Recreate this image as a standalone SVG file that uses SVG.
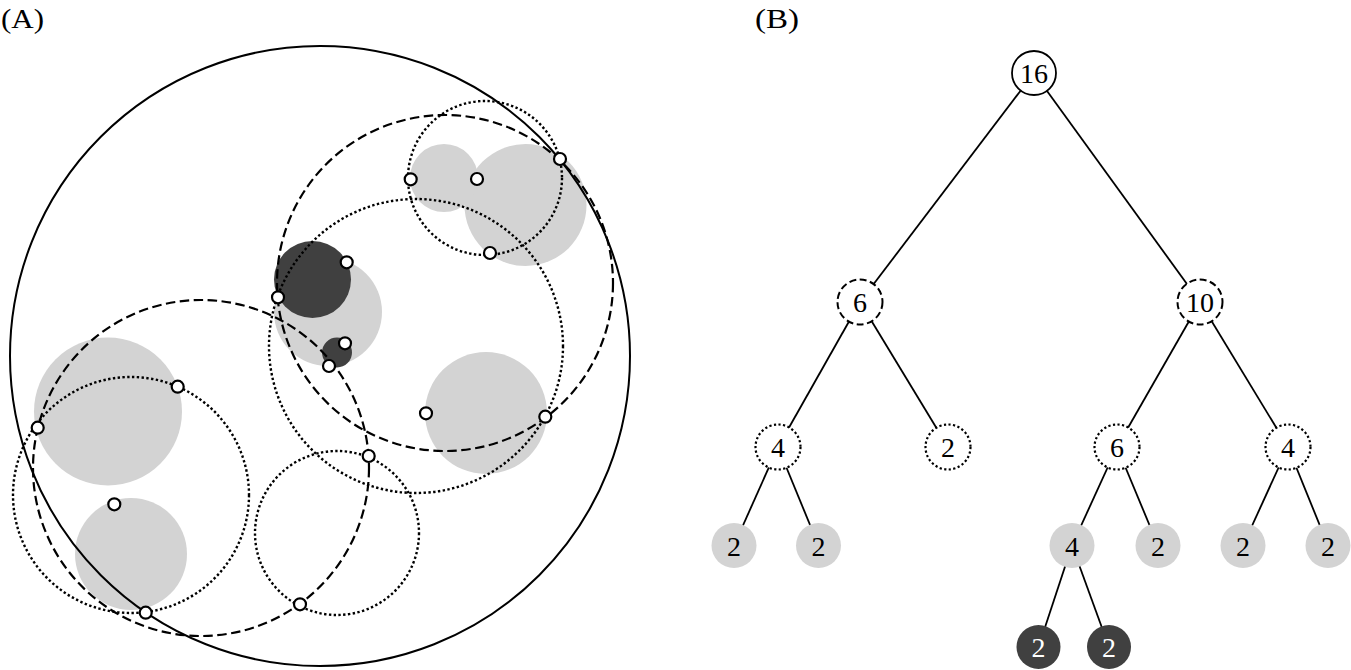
<svg xmlns="http://www.w3.org/2000/svg" width="1351" height="670" viewBox="0 0 1351 670">
<style>
.lbl{font-family:"Liberation Serif","Times New Roman",serif;font-size:27px;fill:#000}
.num{font-family:"Liberation Serif","Times New Roman",serif;font-size:28px;text-anchor:middle;fill:#000}
.wnum{fill:#fff}
.gray{fill:#d3d3d3;stroke:none}
.dark{fill:#404040;stroke:none}
.solid{fill:none;stroke:#000;stroke-width:2}
.dash{fill:none;stroke:#000;stroke-width:2.2;stroke-dasharray:9.5 4.5}
.dot{fill:none;stroke:#000;stroke-width:2.4;stroke-dasharray:2.4 2.4}
.pt{fill:#fff;stroke:#000;stroke-width:2.2}
.edge{stroke:#000;stroke-width:1.8;fill:none}
.nsolid{fill:#fff;stroke:#000;stroke-width:1.8}
.ndash{fill:#fff;stroke:#000;stroke-width:2;stroke-dasharray:7 3.5}
.ndot{fill:#fff;stroke:#000;stroke-width:2.2;stroke-dasharray:2.2 2.4}
.ngray{fill:#d3d3d3}
.ndark{fill:#404040}
</style>
<rect width="1351" height="670" fill="#fff"/>
<text class="lbl" x="1" y="28" textLength="43" lengthAdjust="spacingAndGlyphs">(A)</text>
<text class="lbl" x="755" y="28" textLength="44" lengthAdjust="spacingAndGlyphs">(B)</text>
<g id="panelA">
<g id="fills">
<circle class="gray" cx="525.5" cy="205" r="61"/>
<circle class="gray" cx="444" cy="178" r="34"/>
<circle class="gray" cx="328" cy="312" r="54"/>
<circle class="dark" cx="312.5" cy="279.5" r="38.5"/>
<circle class="dark" cx="337" cy="352.5" r="15"/>
<circle class="gray" cx="486" cy="413" r="61"/>
<circle class="gray" cx="108" cy="411.5" r="74"/>
<circle class="gray" cx="131" cy="554" r="56"/>
</g>
<g id="outlines">
<circle class="solid" cx="320" cy="356" r="310"/>
<circle class="dash" cx="445" cy="283" r="168"/>
<circle class="dash" cx="201" cy="468" r="168"/>
<circle class="dot" cx="416" cy="346" r="147"/>
<circle class="dot" cx="485" cy="178" r="77"/>
<circle class="dot" cx="131" cy="495" r="118"/>
<circle class="dot" cx="337" cy="533" r="82"/>
</g>
<g id="points">
<circle class="pt" cx="410.7" cy="179.3" r="6"/>
<circle class="pt" cx="477" cy="179" r="6"/>
<circle class="pt" cx="560" cy="159" r="6"/>
<circle class="pt" cx="490" cy="253" r="6"/>
<circle class="pt" cx="346.7" cy="262.3" r="6"/>
<circle class="pt" cx="278" cy="297.3" r="6"/>
<circle class="pt" cx="345" cy="343.3" r="6"/>
<circle class="pt" cx="329" cy="366" r="6"/>
<circle class="pt" cx="426" cy="413.3" r="6"/>
<circle class="pt" cx="545.3" cy="416.7" r="6"/>
<circle class="pt" cx="177.7" cy="386.7" r="6"/>
<circle class="pt" cx="37.7" cy="427.7" r="6"/>
<circle class="pt" cx="114.3" cy="504.3" r="6"/>
<circle class="pt" cx="368.7" cy="456" r="6"/>
<circle class="pt" cx="145.7" cy="612.7" r="6"/>
<circle class="pt" cx="300" cy="604.3" r="6"/>
</g>
</g>
<g id="connectors">
<line class="edge" x1="1034" y1="73" x2="860" y2="302"/>
<line class="edge" x1="1034" y1="73" x2="1200" y2="302"/>
<line class="edge" x1="860" y1="302" x2="778" y2="447"/>
<line class="edge" x1="860" y1="302" x2="948" y2="447"/>
<line class="edge" x1="1200" y1="302" x2="1117" y2="447"/>
<line class="edge" x1="1200" y1="302" x2="1288" y2="447"/>
<line class="edge" x1="778" y1="447" x2="734" y2="545.5"/>
<line class="edge" x1="778" y1="447" x2="818.5" y2="545.5"/>
<line class="edge" x1="1117" y1="447" x2="1072" y2="545.5"/>
<line class="edge" x1="1117" y1="447" x2="1158" y2="545.5"/>
<line class="edge" x1="1288" y1="447" x2="1243" y2="545.5"/>
<line class="edge" x1="1288" y1="447" x2="1328" y2="545.5"/>
<line class="edge" x1="1072" y1="545.5" x2="1038.5" y2="647"/>
<line class="edge" x1="1072" y1="545.5" x2="1109" y2="647"/>
</g>
<g id="n16"><circle class="nsolid" cx="1034" cy="73" r="22"/><text class="num" x="1034" y="83">16</text></g>
<g id="n6a"><circle class="ndash" cx="860" cy="302" r="22.5"/><text class="num" x="860" y="312">6</text></g>
<g id="n10"><circle class="ndash" cx="1200" cy="302" r="22.5"/><text class="num" x="1200" y="312">10</text></g>
<g id="n4a"><circle class="ndot" cx="778" cy="447" r="22.5"/><text class="num" x="778" y="457">4</text></g>
<g id="n2a"><circle class="ndot" cx="948" cy="447" r="22.5"/><text class="num" x="948" y="457">2</text></g>
<g id="n6b"><circle class="ndot" cx="1117" cy="447" r="22.5"/><text class="num" x="1117" y="457">6</text></g>
<g id="n4b"><circle class="ndot" cx="1288" cy="447" r="22.5"/><text class="num" x="1288" y="457">4</text></g>
<g id="n2b"><circle class="ngray" cx="734" cy="545.5" r="22.5"/><text class="num" x="734" y="555.5">2</text></g>
<g id="n2c"><circle class="ngray" cx="818.5" cy="545.5" r="22.5"/><text class="num" x="818.5" y="555.5">2</text></g>
<g id="n4c"><circle class="ngray" cx="1072" cy="545.5" r="22.5"/><text class="num" x="1072" y="555.5">4</text></g>
<g id="n2d"><circle class="ngray" cx="1158" cy="545.5" r="22.5"/><text class="num" x="1158" y="555.5">2</text></g>
<g id="n2e"><circle class="ngray" cx="1243" cy="545.5" r="22.5"/><text class="num" x="1243" y="555.5">2</text></g>
<g id="n2f"><circle class="ngray" cx="1328" cy="545.5" r="22.5"/><text class="num" x="1328" y="555.5">2</text></g>
<g id="n2g"><circle class="ndark" cx="1038.5" cy="647" r="22"/><text class="num wnum" x="1038.5" y="657">2</text></g>
<g id="n2h"><circle class="ndark" cx="1109" cy="647" r="22"/><text class="num wnum" x="1109" y="657">2</text></g>
</svg>
